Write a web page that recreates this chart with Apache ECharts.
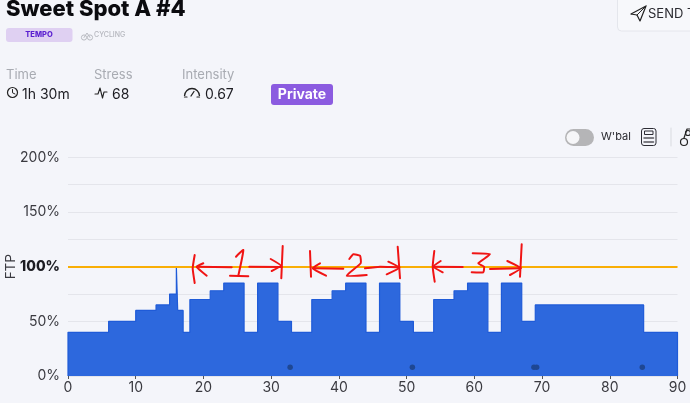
<!DOCTYPE html>
<html><head><meta charset="utf-8">
<style>html,body{margin:0;padding:0;background:#f4f5fa}#c{width:690px;height:403px}</style>
<script src="https://cdn.jsdelivr.net/npm/echarts@6/dist/echarts.min.js"></script>
</head><body><div id="c"></div>
<script>
const stepStarts = [0,6,10,13,15,16,16.2,17,18,21,23,26,28,31,33,36,39,41,44,46,49,51,54,57,59,62,64,67,69,85,90];
const stepFtp    = [40,50,60,65,75,100,60,40,70,78,85,40,85,50,40,70,78,85,40,85,50,40,70,78,85,40,85,50,65,40,40];
const dotMinutes = [32.8,50.85,68.8,69.2,84.8];
const dotFtp     = [8,8,8,8,8];
const yTicksShown = [0,50,100,150,200];
const thresholdFtp = 100;
const FONT = 'Inter, "Noto Sans", sans-serif';

// hand-drawn red annotation strokes
const redStrokes = [
 [[194.7,255],[192.7,268.3],[194.7,283]],
 [[231.7,267.3],[196.7,266.7]],
 [[203.3,263.3],[196.7,266.7],[206.7,275.7]],
 [[236,256.7],[243.3,250],[238.3,275.7]],
 [[230,275.7],[248.3,276.3]],
 [[249.3,266.7],[281.7,267]],
 [[270.7,259],[281,265.7],[271.7,271]],
 [[282.7,246],[281.3,278.3]],
 [[310,251],[311,276.7]],
 [[320,263.3],[312.7,268.3],[326,275.7]],
 [[343.3,268.7],[313.3,268.3]],
 [[349.3,259],[353.3,254.3],[360,255.7],[360.7,263.3],[346.7,275.7],[366.7,275]],
 [[365,268.3],[380,266.7],[399.3,267.3]],
 [[388.3,261.7],[399.3,267.7],[386.7,274.3]],
 [[397.7,246.7],[400,278.3]],
 [[434.3,251],[432.7,266.7],[434.7,281.7]],
 [[440.7,261],[433.3,266.7],[442.7,272.3]],
 [[462.7,267],[433.3,266.7]],
 [[472.7,253.3],[490,254.3],[478.3,263.3],[484,266.7],[483.3,272.3],[471.7,272.3]],
 [[490,269],[520.7,268.3]],
 [[507.3,261],[520.7,268.3],[510,275]],
 [[521.7,244.3],[520,276.7]]
];

const txt = (x,y,t,size,fill,weight,align) => ({type:'text',x,y,z:20,style:{text:t,fontFamily:FONT,fontSize:size,fill,fontWeight:weight||400,align:align||'left',verticalAlign:'middle'}});
const ln = (pts,stroke,w) => ({type:'polyline',z:20,shape:{points:pts},style:{stroke,lineWidth:w||1.2,fill:null,lineJoin:'round',lineCap:'round'}});
const rect = (x,y,w,h,r,fill,stroke) => ({type:'rect',z:19,shape:{x,y,width:w,height:h,r},style:{fill,stroke:stroke||null,lineWidth:1}});
const circ = (cx,cy,r,fill,stroke,w) => ({type:'circle',z:20,shape:{cx,cy,r},style:{fill:fill||null,stroke:stroke||null,lineWidth:w||1}});
const arc = (cx,cy,r,a,b,stroke,w) => ({type:'arc',z:20,shape:{cx,cy,r,startAngle:a,endAngle:b},style:{stroke,lineWidth:w||1.2,fill:null}});

const graphics = [
 txt(6,9,'Sweet Spot A #4',22,'#0b0b0f',800),
 rect(6,28,66.5,14,3,'#dfd0f2'),
 txt(39,35,'TEMPO',7.5,'#5a1fd0',800,'center'),
 circ(84,37.5,2.6,null,'#b9bbc2',1), circ(90,37.5,2.6,null,'#b9bbc2',1),
 ln([[84,37.5],[87,33],[90,37.5]],'#b9bbc2',1),
 txt(94,35,'CYCLING',7,'#b4b6bd',500),
 txt(6,75,'Time',13,'#a8abb2'), txt(94,75,'Stress',13,'#a8abb2'), txt(182,75,'Intensity',13,'#a8abb2'),
 circ(12.5,92.5,5,null,'#222',1.2), ln([[12.5,89.5],[12.5,92.8],[15,94]],'#222',1),
 txt(22,94.5,'1h 30m',14,'#1c1c22'),
 ln([[95,94],[98,94],[100,88],[102.5,98],[104,92],[107,92]],'#222',1.1),
 txt(112,94.5,'68',14,'#1c1c22'),
 arc(192,96,7.5,Math.PI,2*Math.PI,'#222',1.3), ln([[191,96],[194,91.5]],'#222',1.3),
 ln([[184.5,97],[187,97]],'#222',1.2), ln([[197,97],[199.5,97]],'#222',1.2),
 txt(205,94.5,'0.67',14,'#1c1c22'),
 rect(271,84,62,21,3,'#8b5be0'),
 txt(302,94.5,'Private',14,'#ffffff',700,'center'),
 rect(617.5,-10,90,41,4,'#f7f8fb','#e4e6ec'),
 ln([[631,14],[646,6],[640,21],[637,15],[631,14]],'#222',1.2), ln([[637,15],[646,6]],'#222',1),
 txt(648,14,'SEND T',13,'#2a2a30',400),
 rect(565,129,29,17,8.5,'#b5b5b7'),
 circ(573,137.5,6.5,'#f6f6f8'),
 txt(601,137,"W'bal",11,'#2a2a30'),
 rect(641.5,128.5,14.5,17,2.5,'none','#2c2c34'),
 rect(644.5,131,8.5,3.5,0,'none','#2c2c34'),
 ln([[644,138],[653.5,138]],'#55555c',1.5), ln([[644,142],[653.5,142]],'#55555c',1.5),
 ln([[671,128],[671,146]],'#d9dbe0',1),
 circ(684,142,3.5,null,'#222',1.2), circ(688,133,2.5,null,'#222',1.2),
 ln([[684,138],[687,129],[690,129]],'#222',1.2),
 ...redStrokes.map(p => ({type:'polyline',z:30,shape:{points:p,smooth:0.15},style:{stroke:'#f01414',lineWidth:2,fill:null,lineCap:'round',lineJoin:'round'}}))
];

const stepData = [[0,0]].concat(stepStarts.map((m,i)=>[m,stepFtp[i]])).concat([[90,0]]);
const chart = echarts.init(document.getElementById('c'),null,{renderer:'canvas'});
chart.setOption({
 animation:false,
 backgroundColor:'#f4f5fa',
 grid:{left:68,right:12.5,top:157.4,bottom:27,containLabel:false,outerBoundsMode:'none'},
 xAxis:{type:'value',min:0,max:90,interval:10,
  axisLine:{show:false},
  axisTick:{show:true,length:3,lineStyle:{color:'#555'}},
  splitLine:{show:false},
  axisLabel:{color:'#3a3a40',fontSize:14,fontFamily:FONT,margin:5}},
 yAxis:{type:'value',min:0,max:200,interval:25,name:'FTP',nameLocation:'middle',nameGap:50,nameMoveOverlap:false,
  nameTextStyle:{color:'#3a3a40',fontSize:13.5,fontFamily:FONT},
  axisLine:{show:false},axisTick:{show:false},
  splitLine:{lineStyle:{color:'#e4e5eb',width:1.2}},
  axisLabel:{margin:8,fontSize:14,fontFamily:FONT,color:'#3a3a40',
   formatter:v=> yTicksShown.includes(v) ? (v===thresholdFtp?`{b|${v}%}`:`${v}%`) : '',
   rich:{b:{fontWeight:800,fontSize:14,color:'#1c1c22',fontFamily:FONT}}}},
 series:[
  {type:'line',step:'end',data:stepData,symbol:'none',z:3,
   lineStyle:{color:'#1f5bd8',width:1.2},
   areaStyle:{color:'#2d68dd',opacity:1},
   markLine:{silent:true,symbol:'none',label:{show:false},z:4,
    lineStyle:{color:'#f9ae05',width:2,type:'solid'},data:[{yAxis:thresholdFtp}]}},
  {type:'scatter',data:dotMinutes.map((m,i)=>[m,dotFtp[i]]),symbolSize:5.5,z:5,
   itemStyle:{color:'#1e4793',opacity:1}}
 ],
 graphic:graphics
});
</script></body></html>
